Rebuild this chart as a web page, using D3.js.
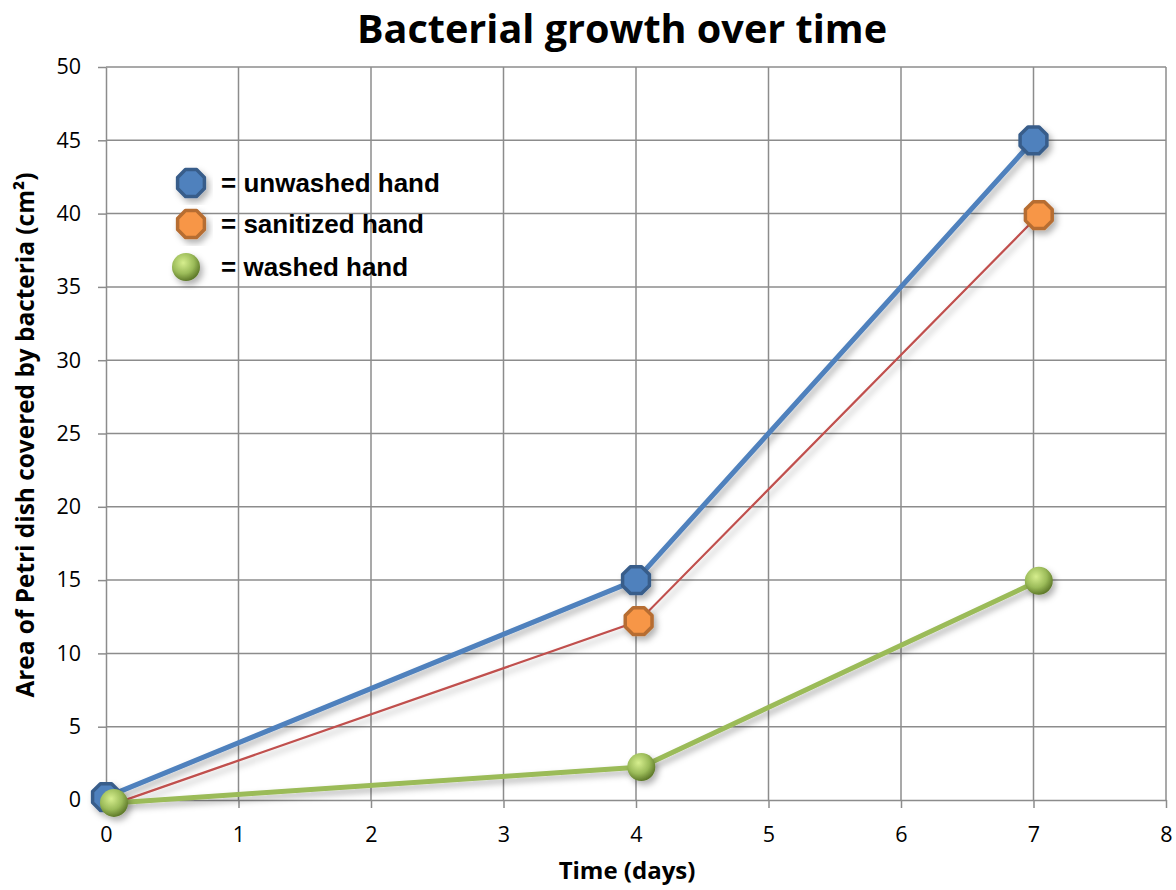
<!DOCTYPE html>
<html>
<head>
<meta charset="utf-8">
<script src="https://cdn.jsdelivr.net/npm/d3@7"></script>
<style>
  body { margin: 0; background: #fff; }
  svg { display: block; }
</style>
</head>
<body>
<script>
// data
const xTicks = [0, 1, 2, 3, 4, 5, 6, 7, 8]
const yTicks = [0, 5, 10, 15, 20, 25, 30, 35, 40, 45, 50]
const unwashed = [[0, 0.2], [4, 15], [7, 45]]
const sanitized = [[0.05, -0.3], [4.02, 12.2], [7.04, 39.9]]
const washed = [[0.06, -0.2], [4.04, 2.25], [7.04, 14.95]]
const legendNames = ["= unwashed hand", "= sanitized hand", "= washed hand"]

function setattrs(shape, dict) {
    for (let [prop, val] of Object.entries(dict)) {
        shape.attr(prop, val)
    }
}

const W = 1176, H = 890
const svg = d3.select("body").append("svg")
setattrs(svg, {"width": W, "height": H})

const x = d3.scaleLinear().domain([0, 8]).range([106, 1166])
const y = d3.scaleLinear().domain([0, 50]).range([800, 67])

const defs = svg.append("defs")
const shadow = defs.append("filter")
setattrs(shadow, {"id": "shadow", "x": "-20%", "y": "-20%", "width": "150%", "height": "150%"})
setattrs(shadow.append("feDropShadow"), {
    "dx": 3, "dy": 4, "stdDeviation": 3, "flood-color": "#000", "flood-opacity": 0.3
})
const grad = defs.append("radialGradient")
setattrs(grad, {"id": "greenball", "cx": "40%", "cy": "35%", "r": "65%"})
setattrs(grad.append("stop"), {"offset": "0%", "stop-color": "#d6ee8e"})
setattrs(grad.append("stop"), {"offset": "60%", "stop-color": "#9bbb59"})
setattrs(grad.append("stop"), {"offset": "100%", "stop-color": "#5f7a2a"})

// grid
const grid = svg.append("g")
grid.selectAll("line.h").data(yTicks.slice(1)).join("line")
    .attr("x1", x(0)).attr("x2", x(8))
    .attr("y1", d => y(d)).attr("y2", d => y(d))
    .attr("stroke", "#8c8c8c").attr("stroke-width", 1.5)
grid.selectAll("line.v").data(xTicks.slice(1)).join("line")
    .attr("x1", d => x(d)).attr("x2", d => x(d))
    .attr("y1", y(0)).attr("y2", y(50))
    .attr("stroke", "#8c8c8c").attr("stroke-width", 1.5)

// axes
const xAxis = svg.append("g").attr("transform", `translate(0,${y(0)})`)
    .call(d3.axisBottom(x).tickValues(xTicks).tickSize(8).tickSizeOuter(0).tickPadding(19))
const yAxis = svg.append("g").attr("transform", `translate(${x(0)},0)`)
    .call(d3.axisLeft(y).tickValues(yTicks).tickSize(8).tickSizeOuter(0).tickPadding(17))
for (let ax of [xAxis, yAxis]) {
    ax.selectAll("path, line").attr("stroke", "#8c8c8c").attr("stroke-width", 1.5)
    ax.selectAll("text").attr("font-family", "'Open Sans', sans-serif")
        .attr("font-size", 21.5).attr("fill", "#000")
}

// lines
const line = d3.line().x(d => x(d[0])).y(d => y(d[1]))
const lines = svg.append("g").attr("filter", "url(#shadow)")
const series = [
    {data: unwashed, color: "#4f81bd", width: 5},
    {data: sanitized, color: "#c0504d", width: 2.2},
    {data: washed, color: "#9bbb59", width: 5}
]
for (let s of series) {
    setattrs(lines.append("path").datum(s.data), {
        "d": line, "fill": "none", "stroke": s.color, "stroke-width": s.width
    })
}

// markers
function octagon(g, cx, cy, fill, stroke) {
    const pts = d3.range(8).map(i => {
        const a = Math.PI / 8 + i * Math.PI / 4
        return [cx + 14.5 * Math.cos(a), cy + 14.5 * Math.sin(a)]
    })
    setattrs(g.append("polygon"), {
        "points": pts.map(p => p.join(",")).join(" "),
        "fill": fill, "stroke": stroke, "stroke-width": 3.5, "stroke-linejoin": "round"
    })
}
function ball(g, cx, cy) {
    setattrs(g.append("circle"), {"cx": cx, "cy": cy, "r": 14, "fill": "url(#greenball)"})
}

const marks = svg.append("g").attr("filter", "url(#shadow)")
for (let d of unwashed) octagon(marks, x(d[0]), y(d[1]), "#4f81bd", "#385d8a")
for (let d of sanitized.slice(1)) octagon(marks, x(d[0]), y(d[1]), "#f79646", "#b66d31")
for (let d of washed) ball(marks, x(d[0]), y(d[1]))

// legend (drawn inside the plot)
const leg = svg.append("g")
const legY = [183, 224, 267]
octagon(leg.append("g").attr("filter", "url(#shadow)"), 191, legY[0], "#4f81bd", "#385d8a")
octagon(leg.append("g").attr("filter", "url(#shadow)"), 191, legY[1], "#f79646", "#b66d31")
ball(leg.append("g").attr("filter", "url(#shadow)"), 186, legY[2])
leg.selectAll("text").data(legendNames).join("text")
    .attr("x", 221).attr("y", (d, i) => legY[i])
    .attr("dominant-baseline", "central")
    .attr("font-family", "'Liberation Sans', Arial, sans-serif")
    .attr("font-weight", "bold").attr("font-size", 26)
    .text(d => d)

// titles
setattrs(svg.append("text").text("Bacterial growth over time"), {
    "x": 622, "y": 43, "text-anchor": "middle",
    "font-family": "'Open Sans', sans-serif", "font-weight": "bold", "font-size": 39.6
})
setattrs(svg.append("text").text("Time (days)"), {
    "x": 627, "y": 879, "text-anchor": "middle",
    "font-family": "'Open Sans', sans-serif", "font-weight": "bold", "font-size": 24
})
setattrs(svg.append("text").text("Area of Petri dish covered by bacteria (cm²)"), {
    "transform": "translate(34,435) rotate(-90)", "text-anchor": "middle",
    "font-family": "'Open Sans', sans-serif", "font-weight": "bold", "font-size": 24.4
})
</script>
</body>
</html>
